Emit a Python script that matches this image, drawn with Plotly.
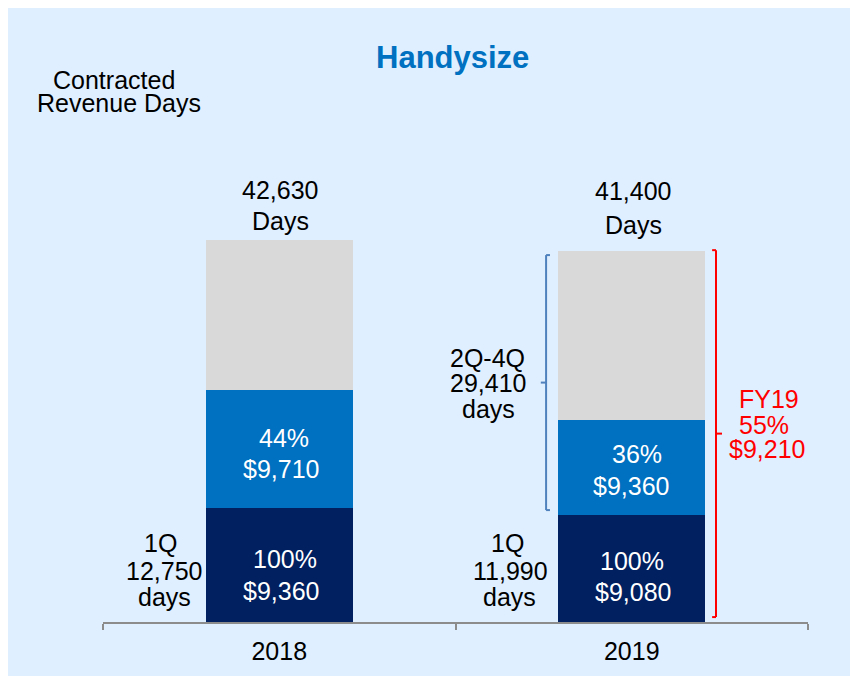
import plotly.graph_objects as go

# data
years = ['2018', '2019']
q1_days = [12750, 11990]
fixed_days = [13150, 10590]
open_days = [16730, 18820]
total_days = [42630, 41400]
q1_pct = ['100%', '100%']
q1_rate = ['$9,360', '$9,080']
fixed_pct = ['44%', '36%']
fixed_rate = ['$9,710', '$9,360']
rest_days_2019 = 29410
fy19_pct = '55%'
fy19_rate = '$9,210'

NAVY = '#002060'
BLUE = '#0070C0'
GREY = '#D9D9D9'
PANEL = '#DFEFFF'
AXIS = '#8C8C8C'
FONT = 'Liberation Sans, Arial, sans-serif'

W, H = 866, 684
OFF = 8  # page margin around the figure
L, R, T, B = 95, 66, 166, 70
PW, PH = W - L - R, H - T - B


def px(x):
    return (x - OFF - L) / PW


def py(y):
    return (H - B - (y - OFF)) / PH


fig = go.Figure()

fig.add_trace(go.Bar(x=years, y=q1_days, marker_color=NAVY, width=0.417,
                     marker_line_width=0, hoverinfo='skip'))
fig.add_trace(go.Bar(x=years, y=fixed_days, marker_color=BLUE, width=0.417,
                     marker_line_width=0, hoverinfo='skip'))
fig.add_trace(go.Bar(x=years, y=open_days, marker_color=GREY, width=0.417,
                     marker_line_width=0, hoverinfo='skip'))


def text(s, x, y, color='black', size=25, bold=False):
    if bold:
        s = '<b>' + s + '</b>'
    fig.add_annotation(text=s, x=px(x), y=py(y), xref='paper', yref='paper',
                       xanchor='center', yanchor='middle', showarrow=False,
                       font=dict(family=FONT, size=size, color=color))


# title and unit
text('Handysize', 452, 57, color=BLUE, size=31, bold=True)
text('Contracted', 114, 80)
text('Revenue Days', 119, 103)

# totals above bars
text(f'{total_days[0]:,}', 280, 190)
text('Days', 280, 221)
text(f'{total_days[1]:,}', 633, 191)
text('Days', 633, 225)

# inside bars
text(fixed_pct[0], 284, 438, color='white')
text(fixed_rate[0], 281, 469, color='white')
text(q1_pct[0], 285, 559, color='white')
text(q1_rate[0], 281, 591, color='white')
text(fixed_pct[1], 637, 454, color='white')
text(fixed_rate[1], 631, 486, color='white')
text(q1_pct[1], 632, 561, color='white')
text(q1_rate[1], 633, 592, color='white')

# 1Q labels
text('1Q', 160, 543)
text(f'{q1_days[0]:,}', 164, 571)
text('days', 164, 597)
text('1Q', 507, 543)
text(f'{q1_days[1]:,}', 511, 571)
text('days', 510, 597)

# 2Q-4Q label
text('2Q-4Q', 487, 358)
text(f'{rest_days_2019:,}', 488, 383)
text('days', 488, 409)

# FY19 label
text('FY19', 769, 399, color='red')
text(fy19_pct, 764, 425, color='red')
text(fy19_rate, 767, 449, color='red')


def bracket(x, tick, mid_tick, y0, y1, color):
    # vertical bar with end ticks and a midpoint tick
    kw = dict(type='line', xref='x', yref='y', line=dict(color=color, width=2))
    fig.add_shape(x0=x, x1=x, y0=y0, y1=y1, **kw)
    fig.add_shape(x0=x, x1=tick, y0=y0, y1=y0, **kw)
    fig.add_shape(x0=x, x1=tick, y0=y1, y1=y1, **kw)
    ym = (y0 + y1) / 2
    fig.add_shape(x0=x, x1=mid_tick, y0=ym, y1=ym, **kw)


bracket(0.757, 0.768, 0.742, q1_days[1] + 500, total_days[1] - 450, '#4F81BD')
bracket(1.239, 1.228, 1.256, 550, total_days[1] + 100, '#FF0000')

fig.update_layout(
    width=W, height=H,
    margin=dict(l=L, r=R, t=T, b=B),
    paper_bgcolor=PANEL,
    plot_bgcolor=PANEL,
    barmode='stack',
    bargap=0,
    showlegend=False,
    font=dict(family=FONT, size=25, color='black'),
    xaxis=dict(
        type='category',
        range=[-0.5, 1.5],
        showline=True, linecolor=AXIS, linewidth=2,
        ticks='outside', tickson='boundaries', ticklen=6, tickwidth=2, tickcolor=AXIS,
        showgrid=False, zeroline=False,
        tickfont=dict(family=FONT, size=25, color='black'),
        ticklabelstandoff=6,
    ),
    yaxis=dict(visible=False, range=[0, 50000], fixedrange=True),
)

fig.write_html('out.html')
